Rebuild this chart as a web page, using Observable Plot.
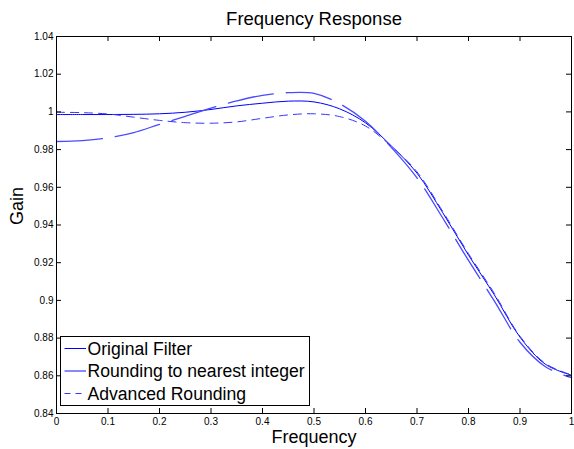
<!DOCTYPE html>
<html>
<head>
<meta charset="utf-8">
<script src="https://cdn.jsdelivr.net/npm/d3@7"></script>
<script src="https://cdn.jsdelivr.net/npm/@observablehq/plot@0.6"></script>
<style>
  html, body { margin: 0; padding: 0; background: #fff; overflow: hidden; }
  #wrap { position: relative; width: 574px; height: 449px; font-family: "Liberation Sans", Arial, sans-serif; }
  #legend { position: absolute; left: 60px; top: 336px; width: 250px; height: 70px; box-sizing: border-box; border: 1px solid #000; background: #fff; }
  #legend svg { display: block; }
</style>
</head>
<body>
<div id="wrap"><div id="chart"></div><div id="legend"></div></div>
<script>
// ---- data ----
const freq      = [0, 0.05, 0.1, 0.15, 0.2, 0.25, 0.3, 0.35, 0.4, 0.45, 0.5, 0.55, 0.6, 0.65, 0.7, 0.75, 0.8, 0.85, 0.9, 0.95, 1.0];
const original  = [0.9986, 0.9986, 0.9986, 0.9987, 0.9990, 0.9998, 1.0013, 1.0032, 1.0046, 1.0057, 1.0053, 1.0016, 0.9942, 0.9820, 0.9675, 0.9465, 0.9240, 0.9030, 0.8805, 0.8660, 0.8603];
const rounding  = [0.9843, 0.9848, 0.9862, 0.9890, 0.9934, 0.9976, 1.0020, 1.0058, 1.0088, 1.0102, 1.0098, 1.0043, 0.9950, 0.9812, 0.9650, 0.9437, 0.9212, 0.8998, 0.8778, 0.8647, 0.8590];
const advanced  = [0.9998, 0.9996, 0.9989, 0.9972, 0.9955, 0.9943, 0.9940, 0.9947, 0.9966, 0.9984, 0.9990, 0.9975, 0.9925, 0.9818, 0.9682, 0.9472, 0.9248, 0.9038, 0.8810, 0.8664, 0.8605];
const seriesNames = ["Original Filter", "Rounding to nearest integer", "Advanced Rounding"];
const xTicks = [0, 0.1, 0.2, 0.3, 0.4, 0.5, 0.6, 0.7, 0.8, 0.9, 1];
const yTicks = [0.84, 0.86, 0.88, 0.9, 0.92, 0.94, 0.96, 0.98, 1, 1.02, 1.04];
const titleText = "Frequency Response";
const xLabel = "Frequency";
const yLabel = "Gain";

// ---- styles per series ----
const styles = {
  "Original Filter":             {stroke: "#0000ff", strokeWidth: 1,   dash: null},
  "Rounding to nearest integer": {stroke: "#4a4aff", strokeWidth: 1.3, dash: "46,13"},
  "Advanced Rounding":           {stroke: "#3535ff", strokeWidth: 1,   dash: "8,6"}
};
const seriesValues = [original, rounding, advanced];
const tables = seriesNames.map((name, s) => freq.map((f, i) => ({f, g: seriesValues[s][i], name})));

const font = "Liberation Sans, Arial, sans-serif";
const plot = Plot.plot({
  width: 574, height: 449,
  marginLeft: 56, marginRight: 3, marginTop: 36, marginBottom: 36,
  style: {fontFamily: font, fontSize: "10px", color: "#000", background: "#fff", overflow: "visible"},
  x: {domain: [0, 1]},
  y: {domain: [0.84, 1.04]},
  marks: [
    // curves
    ...tables.map((t, s) => {
      const st = styles[seriesNames[s]];
      return Plot.line(t, {x: "f", y: "g", curve: "catmull-rom", stroke: st.stroke, strokeWidth: st.strokeWidth, strokeDasharray: st.dash});
    }),
    // box
    Plot.frame({stroke: "#000", strokeWidth: 1}),
    // inward tick marks (bottom, top, left, right)
    Plot.ruleX(xTicks, {x: d => d, y1: 0.84, y2: 0.84, insetTop: -5, stroke: "#000"}),
    Plot.ruleX(xTicks, {x: d => d, y1: 1.04, y2: 1.04, insetBottom: -5, stroke: "#000"}),
    Plot.ruleY(yTicks, {y: d => d, x1: 0, x2: 0, insetRight: -5, stroke: "#000"}),
    Plot.ruleY(yTicks, {y: d => d, x1: 1, x2: 1, insetLeft: -5, stroke: "#000"}),
    // tick labels
    Plot.axisX(xTicks, {anchor: "bottom", tickSize: 0, tickPadding: 4, label: null, tickFormat: d => String(d), fontSize: 10}),
    Plot.axisY(yTicks, {anchor: "left", tickSize: 0, tickPadding: 3, label: null, tickFormat: d => String(d), fontSize: 10}),
    // title and axis labels
    Plot.text([titleText], {frameAnchor: "top", lineAnchor: "middle", dy: -17, fontSize: 18.5, fill: "#000"}),
    Plot.text([xLabel], {frameAnchor: "bottom", lineAnchor: "middle", dy: 24, fontSize: 18, fill: "#000"}),
    Plot.text([yLabel], {frameAnchor: "left", lineAnchor: "middle", dx: -39, rotate: -90, fontSize: 18, fill: "#000"})
  ]
});
document.getElementById("chart").appendChild(plot);

// ---- legend ----
const lg = d3.select("#legend").append("svg").attr("width", 248).attr("height", 68);
seriesNames.forEach((name, i) => {
  const st = styles[name];
  const cy = 11.5 + i * 22.5;
  lg.append("line").attr("x1", 3.5).attr("x2", 25).attr("y1", cy).attr("y2", cy)
    .attr("stroke", st.stroke).attr("stroke-width", st.strokeWidth)
    .attr("stroke-dasharray", name === "Advanced Rounding" ? "6,5" : null);
  lg.append("text").attr("x", 26.5).attr("y", cy + 6.3)
    .attr("font-family", font).attr("font-size", 17.6).attr("fill", "#000").text(name);
});
</script>
</body>
</html>
